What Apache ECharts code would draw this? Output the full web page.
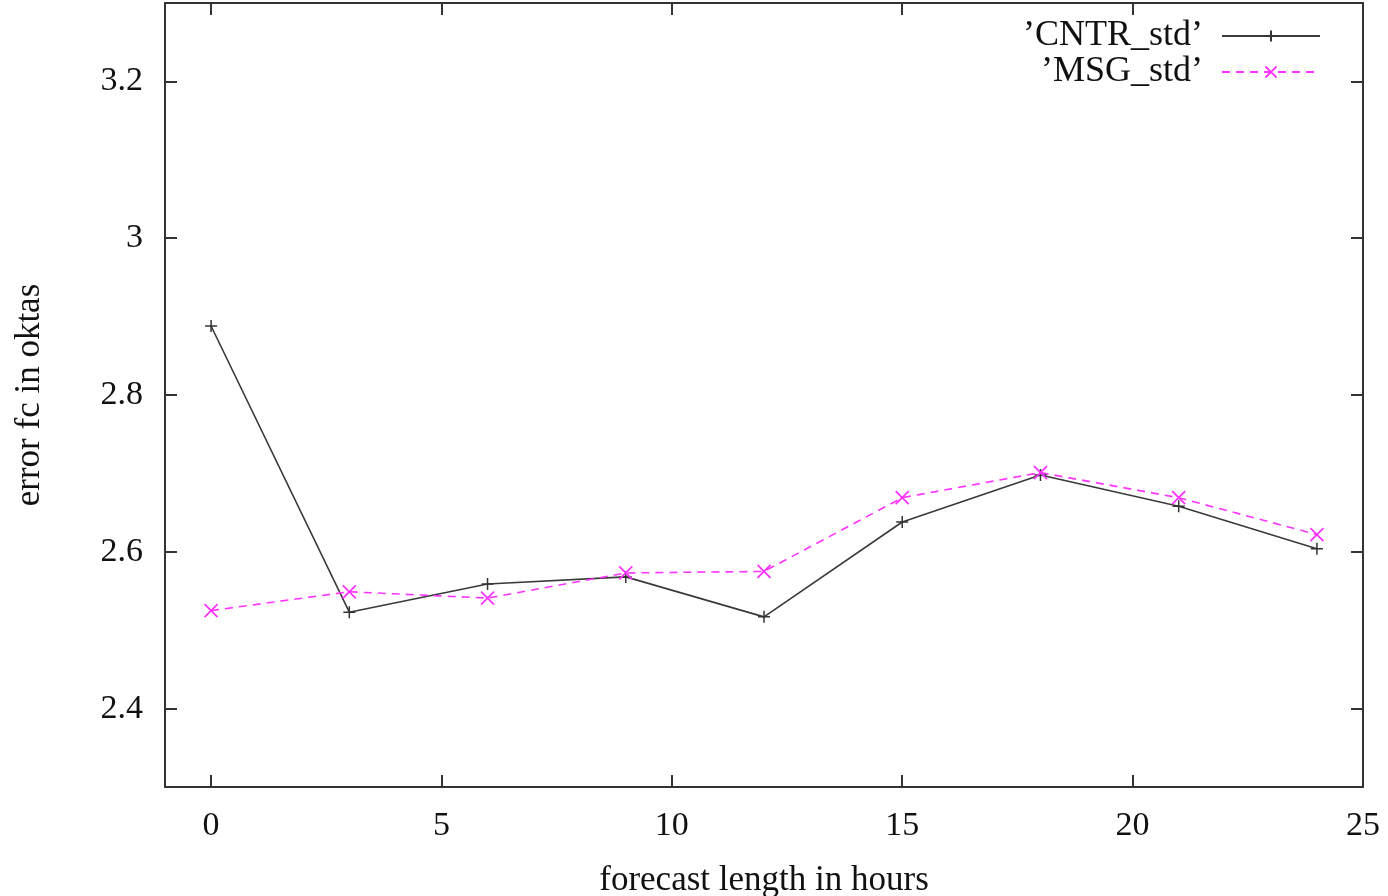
<!DOCTYPE html>
<html>
<head>
<meta charset="utf-8">
<script src="https://cdn.jsdelivr.net/npm/echarts@6/dist/echarts.min.js"></script>
<style>html,body{margin:0;padding:0;background:#fff}#c{width:1388px;height:896px}</style>
</head>
<body>
<div id="c"></div>
<script>
const hours = [0, 3, 6, 9, 12, 15, 18, 21, 24];
const cntrStd = [2.888, 2.523, 2.559, 2.568, 2.517, 2.638, 2.698, 2.658, 2.604];
const msgStd = [2.525, 2.549, 2.541, 2.573, 2.575, 2.669, 2.701, 2.669, 2.622];
const xTicks = [0, 5, 10, 15, 20, 25];
const yTicks = [2.4, 2.6, 2.8, 3.0, 3.2];
const seriesNames = ['\u2019CNTR_std\u2019', '\u2019MSG_std\u2019'];

const font = 'Liberation Serif';
const plus = 'path://M0,5 L10,5 M5,0 L5,10';
const cross = 'path://M0,0 L10,10 M10,0 L0,10';

const chart = echarts.init(document.getElementById('c'), null, {renderer: 'canvas'});
const axisLine = {show: true, onZero: false, lineStyle: {color: '#333', width: 2}};
const tick = {show: true, inside: true, length: 12, lineStyle: {color: '#333', width: 2}};
chart.setOption({
  animation: false,
  backgroundColor: '#fff',
  grid: {left: 165, right: 25, top: 3, bottom: 109, show: false, outerBoundsMode: 'none', containLabel: false},
  legend: {
    right: 62, top: 13, orient: 'vertical', align: 'right', itemGap: 0,
    itemWidth: 98, itemHeight: 14,
    textStyle: {fontFamily: font, fontSize: 36, lineHeight: 34, color: '#111', padding: [0, 14, 0, 0]},
    data: seriesNames.map(n => ({name: n}))
  },
  xAxis: [{
    type: 'value', min: -1, max: 25,
    name: 'forecast length in hours', nameLocation: 'middle', nameGap: 76,
    nameTextStyle: {fontFamily: font, fontSize: 35, color: '#111'},
    axisLine: axisLine,
    axisTick: Object.assign({customValues: xTicks}, tick),
    axisLabel: {customValues: xTicks, fontFamily: font, fontSize: 34, color: '#111', margin: 22},
    splitLine: {show: false}
  }, {
    type: 'value', min: -1, max: 25, position: 'top',
    axisLine: axisLine,
    axisTick: Object.assign({customValues: xTicks}, tick),
    axisLabel: {show: false},
    splitLine: {show: false}
  }],
  yAxis: [{
    type: 'value', min: 2.3, max: 3.3,
    name: 'error fc in oktas', nameLocation: 'middle', nameGap: 118,
    nameTextStyle: {fontFamily: font, fontSize: 35, color: '#111'},
    axisLine: axisLine,
    axisTick: Object.assign({customValues: yTicks}, tick),
    axisLabel: {customValues: yTicks, fontFamily: font, fontSize: 34, color: '#111', margin: 22,
      formatter: v => String(Math.round(v * 10) / 10)},
    splitLine: {show: false}
  }, {
    type: 'value', min: 2.3, max: 3.3, position: 'right',
    axisLine: axisLine,
    axisTick: Object.assign({customValues: yTicks}, tick),
    axisLabel: {show: false},
    splitLine: {show: false}
  }],
  series: [{
    name: seriesNames[0], type: 'line',
    data: hours.map((h, i) => [h, cntrStd[i]]),
    symbol: plus, symbolSize: 12, showSymbol: true,
    itemStyle: {color: 'rgba(0,0,0,0)', borderColor: '#333', borderWidth: 1.5},
    lineStyle: {color: '#3a3a3a', width: 1.6, type: 'solid'}
  }, {
    name: seriesNames[1], type: 'line',
    data: hours.map((h, i) => [h, msgStd[i]]),
    symbol: cross, symbolSize: 13, showSymbol: true,
    itemStyle: {color: 'rgba(0,0,0,0)', borderColor: '#ff33ff', borderWidth: 1.8},
    lineStyle: {color: '#ff33ff', width: 1.6, type: [8, 6]}
  }]
});
</script>
</body>
</html>
